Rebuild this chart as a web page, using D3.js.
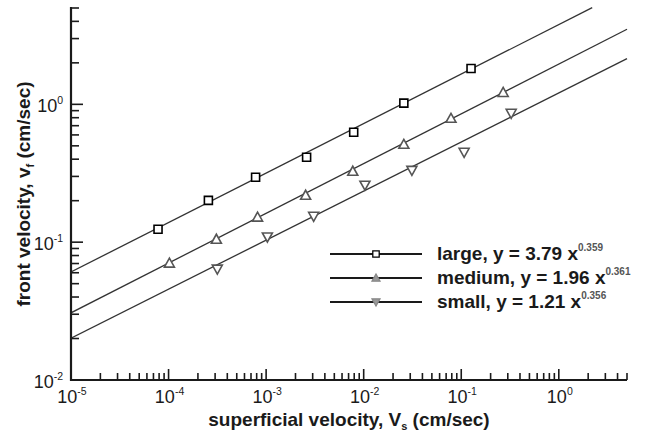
<!DOCTYPE html>
<html>
<head>
<meta charset="utf-8">
<script src="https://cdn.jsdelivr.net/npm/d3@7"></script>
<style>
  body { margin: 0; background: #fff; }
  svg { display: block; font-family: "Liberation Sans", Arial, sans-serif; }
</style>
</head>
<body>
<div id="root"></div>
<script>
const largeX = [7.8e-5, 2.56e-4, 7.8e-4, 2.6e-3, 7.9e-3, 0.0258, 0.126];
const largeY = [0.124, 0.201, 0.296, 0.413, 0.627, 1.02, 1.82];
const mediumX = [1.02e-4, 3.09e-4, 8.17e-4, 2.54e-3, 7.73e-3, 0.0258, 0.0785, 0.269];
const mediumY = [0.0705, 0.105, 0.152, 0.219, 0.327, 0.513, 0.792, 1.22];
const smallX = [3.16e-4, 1.03e-3, 3.07e-3, 0.0103, 0.0312, 0.107, 0.325];
const smallY = [0.0637, 0.109, 0.154, 0.259, 0.332, 0.449, 0.861];

// power-law fits y = a x^b, as printed in the legend
const fitNames = ['large', 'medium', 'small'];
const fitA = [3.79, 1.96, 1.21];
const fitB = [0.359, 0.361, 0.356];
const fitFrom = [1e-5, 1e-5, 1e-5];
const fitTo = [2.2, 5, 5];

const xDomain = [1e-5, 5];
const yDomain = [0.01, 5];

const W = 652, H = 432;
const svg = d3.select('#root').append('svg').attr('width', W).attr('height', H);

const x = d3.scaleLog().domain(xDomain).range([71, 627]);
const y = d3.scaleLog().domain(yDomain).range([380, 8]);
const ink = '#1a1a1a';
const isMajor = v => Math.abs(Math.log10(v) - Math.round(Math.log10(v))) < 1e-9;

// clip for the data lines
svg.append('clipPath').attr('id', 'plot')
  .append('rect').attr('x', 71).attr('y', 0).attr('width', 560).attr('height', 380);

// fitted lines
const line = d3.line().x(d => x(d[0])).y(d => y(d[1]));
const plot = svg.append('g').attr('clip-path', 'url(#plot)');
fitNames.forEach((n, i) => {
  const pts = [fitFrom[i], fitTo[i]].map(v => [v, fitA[i] * Math.pow(v, fitB[i])]);
  plot.append('path').attr('d', line(pts))
    .attr('fill', 'none').attr('stroke', '#333').attr('stroke-width', 1.3);
});

// markers
const squarePath = 'M-4,-4H4V4H-4Z';
const upPath = 'M0,-5L5,4H-5Z';
const downPath = 'M0,5L5,-4H-5Z';
const sets = [
  { xs: largeX, ys: largeY, path: squarePath, stroke: '#000' },
  { xs: mediumX, ys: mediumY, path: upPath, stroke: '#555' },
  { xs: smallX, ys: smallY, path: downPath, stroke: '#555' }
];
sets.forEach(s => {
  svg.append('g').selectAll('path')
    .data(d3.zip(s.xs, s.ys))
    .enter().append('path')
    .attr('d', s.path)
    .attr('transform', d => `translate(${x(d[0])},${y(d[1])})`)
    .attr('fill', '#fff').attr('stroke', s.stroke).attr('stroke-width', 1.6);
});

// axes (inward ticks, left + bottom only)
const axes = svg.append('g').attr('stroke', ink);
axes.append('line').attr('x1', 71).attr('x2', 71).attr('y1', 7).attr('y2', 381).attr('stroke-width', 2.2);
axes.append('line').attr('x1', 70).attr('x2', 627).attr('y1', 380).attr('y2', 380).attr('stroke-width', 2.2);

const xt = x.ticks().filter(v => v <= xDomain[1]);
axes.selectAll('.xt').data(xt).enter().append('line')
  .attr('x1', d => x(d)).attr('x2', d => x(d))
  .attr('y1', 380).attr('y2', d => 380 - (isMajor(d) ? 11 : 7))
  .attr('stroke-width', 1.6);

const yt = y.ticks().filter(v => v <= yDomain[1]);
axes.selectAll('.yt').data(yt).enter().append('line')
  .attr('y1', d => y(d)).attr('y2', d => y(d))
  .attr('x1', 71).attr('x2', d => 71 + (isMajor(d) ? 12 : 8))
  .attr('stroke-width', 1.6);

// tick labels: 10 with superscript exponent
function powLabel(g, v) {
  const t = g.append('text').attr('fill', ink).attr('font-size', 18);
  t.append('tspan').text('10');
  t.append('tspan').attr('font-size', 10.5).attr('dy', -8).text(Math.round(Math.log10(v)));
  return t;
}
xt.filter(isMajor).forEach(v => {
  powLabel(svg, v).attr('x', x(v) + 1).attr('y', 403).attr('text-anchor', 'middle');
});
yt.filter(isMajor).forEach(v => {
  powLabel(svg, v).attr('x', 63).attr('y', y(v) + 8).attr('text-anchor', 'end');
});

// axis titles
const xTitle = svg.append('text').attr('x', 349).attr('y', 426).attr('text-anchor', 'middle')
  .attr('font-size', 19).attr('font-weight', 'bold').attr('fill', ink);
xTitle.append('tspan').text('superficial velocity, V');
xTitle.append('tspan').attr('font-size', 11).attr('dy', 4).text('s');
xTitle.append('tspan').attr('dy', -4).text(' (cm/sec)');

const yTitle = svg.append('text').attr('transform', 'translate(30,194) rotate(-90)')
  .attr('text-anchor', 'middle').attr('font-size', 19).attr('font-weight', 'bold').attr('fill', ink);
yTitle.append('tspan').text('front velocity, v');
yTitle.append('tspan').attr('font-size', 11).attr('dy', 4).text('f');
yTitle.append('tspan').attr('dy', -4).text(' (cm/sec)');

// legend
const legY = [254, 278, 302];
const legPaths = [squarePath, upPath, downPath];
const legFill = ['#fff', '#999', '#999'];
const legStroke = ['#000', '#888', '#888'];
fitNames.forEach((n, i) => {
  const g = svg.append('g').attr('transform', `translate(0,${legY[i]})`);
  g.append('line').attr('x1', 330).attr('x2', 422).attr('stroke', ink).attr('stroke-width', 1.8);
  g.append('path').attr('d', legPaths[i]).attr('transform', 'translate(376,0) scale(0.8)')
    .attr('fill', legFill[i]).attr('stroke', legStroke[i]).attr('stroke-width', 1.6);
  const t = g.append('text').attr('x', 437).attr('y', 6).attr('font-size', 19)
    .attr('font-weight', 'bold').attr('fill', ink);
  t.append('tspan').text(`${n}, y = ${fitA[i].toFixed(2)} x`);
  t.append('tspan').attr('font-size', 10).attr('dy', -9).attr('fill', '#555').text(fitB[i].toFixed(3));
});
</script>
</body>
</html>
